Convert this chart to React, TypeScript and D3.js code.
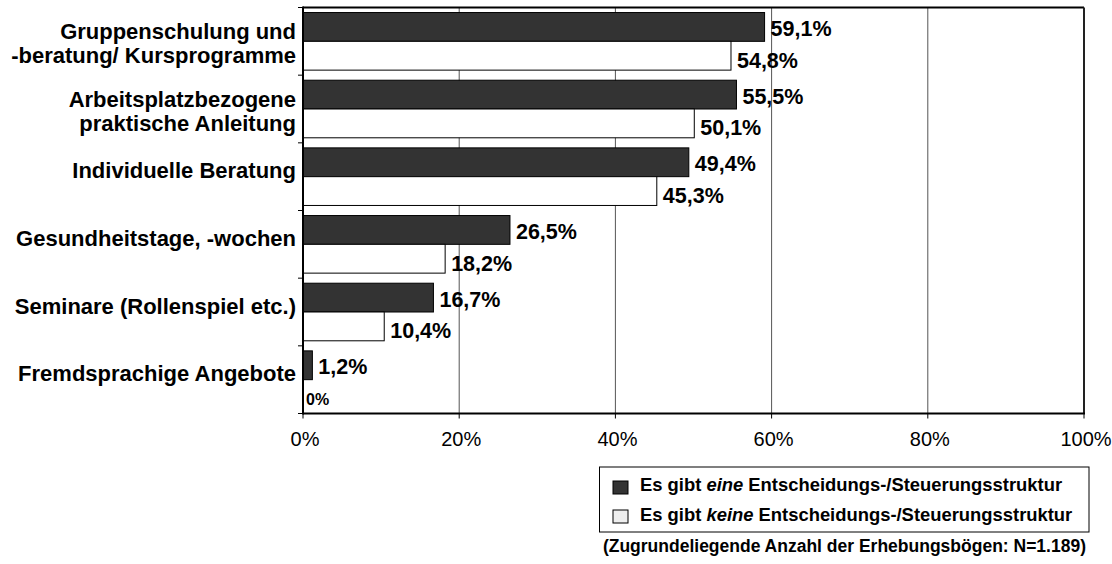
import * as d3 from "d3";

const categories = [
  ["Gruppenschulung und", "-beratung/ Kursprogramme"],
  ["Arbeitsplatzbezogene", "praktische Anleitung"],
  ["Individuelle Beratung"],
  ["Gesundheitstage, -wochen"],
  ["Seminare (Rollenspiel etc.)"],
  ["Fremdsprachige Angebote"],
];
const withStructure = [59.1, 55.5, 49.4, 26.5, 16.7, 1.2];
const withoutStructure = [54.8, 50.1, 45.3, 18.2, 10.4, 0];
const xTicks = [0, 20, 40, 60, 80, 100];
const seriesNames = ["eine", "keine"];

const FONT = "'Liberation Sans', Arial, sans-serif";
const DARK = "#333333";

const fmt = (v: number) => (v === 0 ? "0%" : v.toFixed(1).replace(".", ",") + "%");

export default function App() {
  const width = 1112;
  const height = 564;
  const m = { top: 7.5, left: 303, right: 1084, bottom: 413.5 };

  const x = d3.scaleLinear().domain([0, 100]).range([m.left, m.right]);
  const y = d3
    .scaleBand<number>()
    .domain(d3.range(categories.length))
    .range([m.top, m.bottom])
    .padding(0);
  const sub = d3
    .scaleBand<string>()
    .domain(seriesNames)
    .range([0, y.bandwidth()])
    .paddingInner(0)
    .paddingOuter(0.175);

  const rows = categories.map((c, i) => ({
    label: c,
    i,
    vals: [withStructure[i], withoutStructure[i]],
  }));

  const boundaries = d3.range(categories.length + 1).map((i) => m.top + i * y.step());

  return (
    <svg
      width={width}
      height={height}
      style={{ position: "absolute", left: 0, top: 0, fontFamily: FONT }}
    >
      <rect width={width} height={height} fill="#fff" />
      {/* gridlines */}
      {xTicks.slice(1, -1).map((t) => (
        <line key={t} x1={x(t)} x2={x(t)} y1={m.top} y2={m.bottom} stroke="#555" strokeWidth={1} />
      ))}
      {/* bars */}
      {rows.map((r) =>
        r.vals.map((v, j) => {
          const by = (y(r.i) as number) + (sub(seriesNames[j]) as number);
          return (
            <rect
              key={r.i + "-" + j}
              x={x(0)}
              y={by}
              width={x(v) - x(0)}
              height={sub.bandwidth()}
              fill={j === 0 ? DARK : "#fff"}
              stroke="#000"
              strokeWidth={1}
            />
          );
        })
      )}
      {/* value labels */}
      {rows.map((r) =>
        r.vals.map((v, j) => {
          const by = (y(r.i) as number) + (sub(seriesNames[j]) as number) + sub.bandwidth() / 2;
          return (
            <text
              key={"l" + r.i + "-" + j}
              x={x(v) + (v === 0 ? 3 : 6)}
              y={by + (j === 0 ? 2 : 5)}
              dominantBaseline="central"
              fontSize={v === 0 ? 16 : 21.5}
              fontWeight="bold"
            >
              {fmt(v)}
            </text>
          );
        })
      )}
      {/* frame */}
      <line x1={m.left} x2={m.right} y1={m.top} y2={m.top} stroke="#000" strokeWidth={2} />
      <line x1={m.right} x2={m.right} y1={m.top} y2={m.bottom} stroke="#222" strokeWidth={2} />
      <line x1={m.left} x2={m.right + 1} y1={m.bottom} y2={m.bottom} stroke="#000" strokeWidth={2} />
      <line x1={m.left} x2={m.left} y1={m.top - 1} y2={m.bottom + 1} stroke="#000" strokeWidth={2} />
      {/* left ticks */}
      {boundaries.map((b, i) => (
        <line key={"yt" + i} x1={m.left - 5} x2={m.left} y1={b} y2={b} stroke="#000" strokeWidth={1} />
      ))}
      {/* bottom ticks + labels */}
      {xTicks.map((t) => (
        <g key={"xt" + t}>
          <line x1={x(t)} x2={x(t)} y1={m.bottom} y2={m.bottom + 5} stroke="#000" strokeWidth={1} />
          <text x={x(t) + 2} y={446} textAnchor="middle" fontSize={20}>
            {t}%
          </text>
        </g>
      ))}
      {/* category labels */}
      {rows.map((r) => {
        const cy = (y(r.i) as number) + y.bandwidth() / 2;
        const lh = 24;
        const start =
          r.label.length > 1 ? cy - ((r.label.length - 1) * lh) / 2 + 2 : cy - 6;
        return (
          <text key={"c" + r.i} textAnchor="end" fontSize={22} fontWeight="bold">
            {r.label.map((ln, k) => (
              <tspan key={k} x={296} y={start + k * lh} dominantBaseline="central">
                {ln}
              </tspan>
            ))}
          </text>
        );
      })}
      {/* legend */}
      <rect x={599.5} y={467} width={1089 - 599.5} height={65} fill="#fff" stroke="#000" strokeWidth={1} />
      {seriesNames.map((s, j) => (
        <g key={"lg" + s}>
          <rect
            x={613}
            y={481 + j * 29}
            width={15}
            height={13}
            fill={j === 0 ? DARK : "#eeeeee"}
            stroke="#000"
            strokeWidth={1}
          />
          <text x={640} y={491 + j * 30} fontSize={18.4} fontWeight="bold">
            Es gibt <tspan fontStyle="italic">{s}</tspan> Entscheidungs-/Steuerungsstruktur
          </text>
        </g>
      ))}
      <text x={1086} y={552} textAnchor="end" fontSize={17.5} fontWeight="bold">
        (Zugrundeliegende Anzahl der Erhebungsbögen: N=1.189)
      </text>
    </svg>
  );
}
